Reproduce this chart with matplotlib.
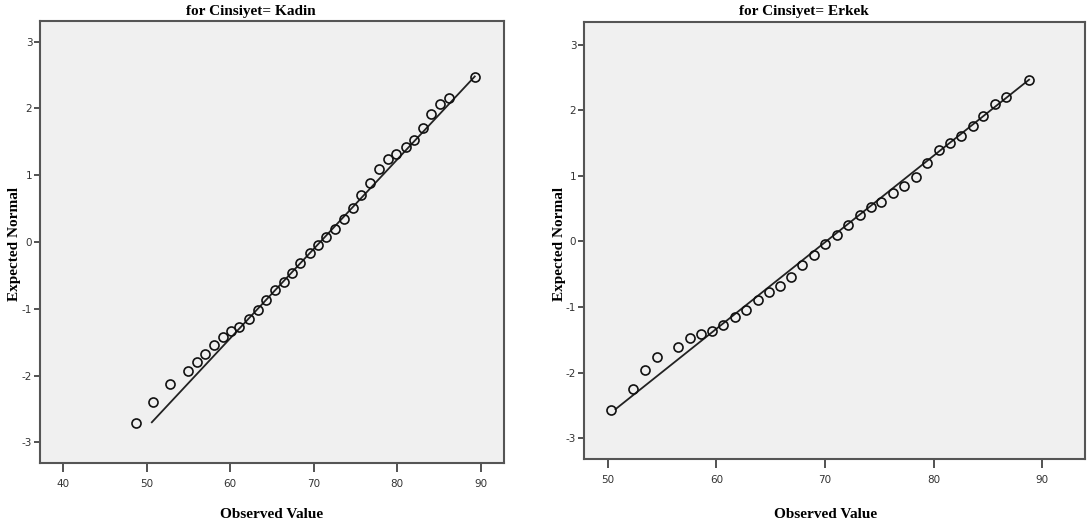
import numpy as np
import matplotlib.pyplot as plt

plt.rcParams['axes.unicode_minus'] = False

# Normal Q-Q plot points
kadin_x = [48.7, 50.8, 52.8, 54.9, 56.0, 57.0, 58.1, 59.1, 60.1, 61.1, 62.2, 63.3,
           64.3, 65.3, 66.4, 67.4, 68.4, 69.5, 70.5, 71.5, 72.6, 73.6, 74.7, 75.7,
           76.8, 77.8, 78.9, 79.9, 81.0, 82.0, 83.1, 84.1, 85.1, 86.2, 89.3]
kadin_y = [-2.71, -2.39, -2.12, -1.93, -1.79, -1.67, -1.55, -1.42, -1.34, -1.27, -1.16, -1.02,
           -0.87, -0.72, -0.60, -0.46, -0.31, -0.17, -0.04, 0.07, 0.20, 0.35, 0.51, 0.70,
           0.89, 1.09, 1.24, 1.32, 1.42, 1.53, 1.70, 1.92, 2.06, 2.16, 2.47]
kadin_line_x = [50.6, 89.3]
kadin_line_y = [-2.70, 2.48]

erkek_x = [50.25, 52.3, 53.4, 54.5, 56.5, 57.6, 58.6, 59.6, 60.6, 61.7, 62.7, 63.8,
           64.8, 65.9, 66.9, 67.9, 69.0, 70.0, 71.1, 72.1, 73.2, 74.2, 75.2, 76.3,
           77.3, 78.4, 79.4, 80.5, 81.5, 82.5, 83.6, 84.6, 85.7, 86.7, 88.8]
erkek_y = [-2.57, -2.25, -1.96, -1.76, -1.61, -1.48, -1.41, -1.36, -1.28, -1.16, -1.04, -0.89,
           -0.77, -0.68, -0.54, -0.36, -0.20, -0.04, 0.10, 0.25, 0.40, 0.52, 0.61, 0.74,
           0.84, 0.99, 1.20, 1.39, 1.50, 1.61, 1.76, 1.92, 2.10, 2.21, 2.47]
erkek_line_x = [50.7, 88.8]
erkek_line_y = [-2.56, 2.47]

kadin_xticks = [40, 50, 60, 70, 80, 90]
erkek_xticks = [50, 60, 70, 80, 90]
yticks = [-3, -2, -1, 0, 1, 2, 3]

titles = ['for Cinsiyet= Kadin', 'for Cinsiyet= Erkek']

fig = plt.figure(figsize=(10.88, 5.28), dpi=100)
ax1 = fig.add_axes([40/1088, 1-463/528, 464/1088, 442/528])
ax2 = fig.add_axes([584/1088, 1-459/528, 501/1088, 437/528])

panels = [
    (ax1, kadin_x, kadin_y, kadin_line_x, kadin_line_y, kadin_xticks, (37.2, 92.8), (-3.31, 3.31)),
    (ax2, erkek_x, erkek_y, erkek_line_x, erkek_line_y, erkek_xticks, (47.8, 93.95), (-3.32, 3.35)),
]

label_font = dict(family='Liberation Serif', weight='bold', size=11)

for ax, px, py, lx, ly, xt, xl, yl in panels:
    ax.set_facecolor('#f0f0f0')
    ax.plot(lx, ly, color='#222222', lw=1.3)
    ax.plot(px, py, 'o', ms=6.5, mfc='none', mec='#111111', mew=1.2)
    ax.set_xlim(*xl)
    ax.set_ylim(*yl)
    ax.set_xticks(xt)
    ax.set_yticks(yticks)
    ax.tick_params(axis='x', direction='out', length=6.5, width=1.3, color='#444444',
                   labelsize=7.5, labelcolor='#333333', pad=5)
    ax.tick_params(axis='y', direction='out', length=4.5, width=1.3, color='#444444',
                   labelsize=7.5, labelcolor='#333333', pad=1)
    for s in ax.spines.values():
        s.set_color('#555555')
        s.set_linewidth(1.5)

# titles and axis labels
fig.text(251/1088, 1-12/528, titles[0], ha='center', va='center', fontdict=label_font)
fig.text(804/1088, 1-12/528, titles[1], ha='center', va='center', fontdict=label_font)
fig.text(272/1088, 1-515/528, 'Observed Value', ha='center', va='center', fontdict=label_font)
fig.text(826/1088, 1-515/528, 'Observed Value', ha='center', va='center', fontdict=label_font)
fig.text(15/1088, 1-244/528, 'Expected Normal', ha='center', va='center', rotation=90, fontdict=label_font)
fig.text(560/1088, 1-244/528, 'Expected Normal', ha='center', va='center', rotation=90, fontdict=label_font)

fig.savefig('out.png', dpi=100)
